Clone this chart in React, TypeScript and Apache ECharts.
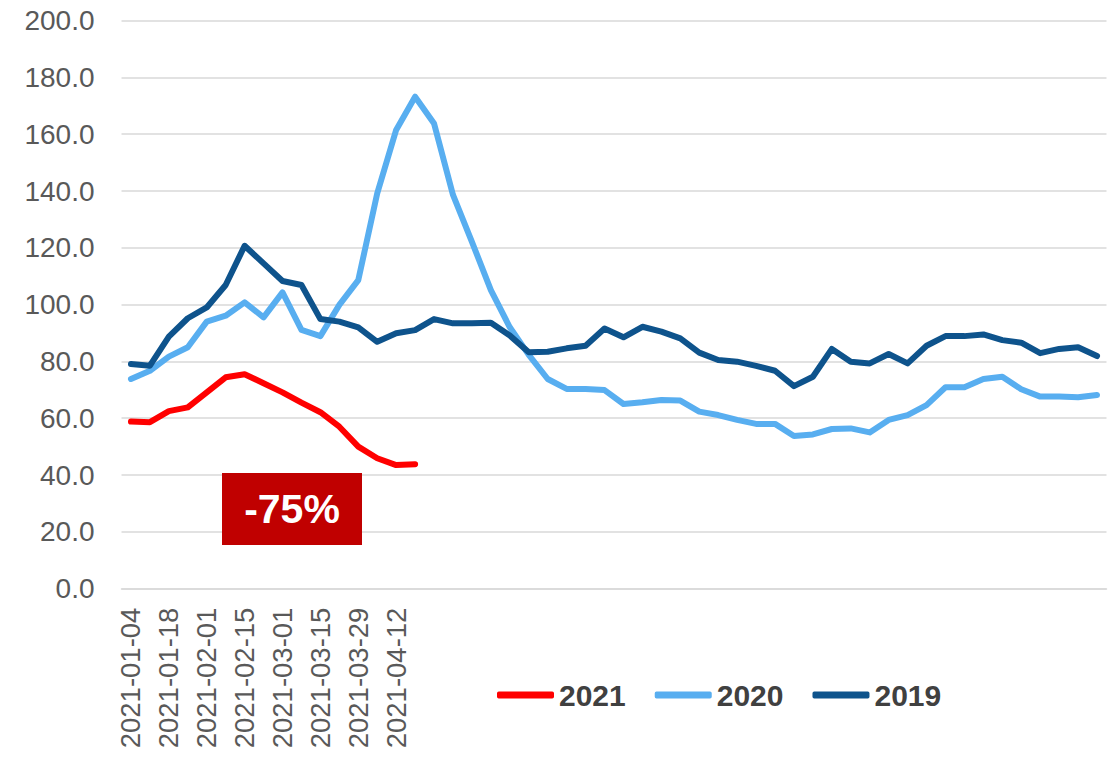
import React, { useEffect, useRef } from "react";
import * as echarts from "echarts";

const categories: string[] = [
  "2021-01-04", "2021-01-11", "2021-01-18", "2021-01-25", "2021-02-01", "2021-02-08",
  "2021-02-15", "2021-02-22", "2021-03-01", "2021-03-08", "2021-03-15", "2021-03-22",
  "2021-03-29", "2021-04-05", "2021-04-12", "2021-04-19",
  "", "", "", "", "", "", "", "", "", "", "", "", "", "", "", "", "", "",
  "", "", "", "", "", "", "", "", "", "", "", "", "", "", "", "", "", "",
];

const seriesNames = ["2021", "2020", "2019"];

const values2021: number[] = [
  58.8, 58.6, 62.5, 63.8, 69.1, 74.4, 75.5, 72.3, 69.1, 65.5, 62.1, 57.0, 50.0, 45.9, 43.5, 43.8,
];

const values2020: number[] = [
  73.8, 76.7, 81.7, 85.0, 94.0, 96.1, 100.8, 95.5, 104.3, 91.1, 88.9, 99.9, 108.6,
  139.2, 161.5, 173.2, 163.8, 138.6, 122.1, 105.1, 92.0,
  82.3, 73.8, 70.3, 70.3, 69.9, 65.0, 65.6, 66.4, 66.2, 62.3, 61.1, 59.4, 58.0, 58.0, 53.7,
  54.3, 56.2, 56.4, 55.0, 59.4, 61.1, 64.6, 70.9, 70.9, 73.8, 74.6, 70.2, 67.6, 67.6, 67.4, 68.2,
];

const values2019: number[] = [
  79.1, 78.5, 88.7, 95.2, 99.0, 106.9, 120.7, 114.5, 108.3, 106.9, 94.9, 94.0, 92.0, 86.9, 89.9, 91.0, 94.9,
  93.4, 93.4, 93.6, 89.1,
  83.2, 83.4, 84.6, 85.5, 91.6, 88.5, 92.2, 90.5, 88.1, 83.1, 80.5, 79.9, 78.4, 76.7, 71.3,
  74.6, 84.4, 79.9, 79.3, 82.6, 79.3, 85.5, 88.9, 88.9, 89.5, 87.5, 86.6, 82.9, 84.4, 85.0, 81.9,
];

const annotationText = "-75%";

const colors = ["#FF0000", "#58AEF0", "#0E538C"];
const FONT = "'Liberation Sans', Arial, sans-serif";

export default function App() {
  const ref = useRef<HTMLDivElement>(null);

  useEffect(() => {
    if (!ref.current) return;
    const chart = echarts.init(ref.current, null, { renderer: "svg" });
    const allData = [values2021, values2020, values2019];
    chart.setOption({
      animation: false,
      backgroundColor: "#FFFFFF",
      textStyle: { fontFamily: FONT },
      grid: {
        left: 121.5,
        right: 7.5,
        top: 20.6,
        bottom: 170.4,
        containLabel: false,
        outerBoundsMode: "none",
      },
      legend: {
        left: 497,
        top: 680,
        padding: 0,
        itemWidth: 57,
        itemHeight: 7,
        itemGap: 29,
        icon: "roundRect",
        textStyle: {
          fontFamily: FONT,
          fontSize: 30,
          fontWeight: "bold",
          color: "#404040",
          padding: [0, 0, 0, 0],
        },
        data: seriesNames,
      },
      xAxis: {
        type: "category",
        data: categories,
        boundaryGap: true,
        axisLine: { show: true, lineStyle: { color: "#D9D9D9", width: 1.5 } },
        axisTick: { show: false },
        axisLabel: {
          rotate: 90,
          interval: 1,
          margin: 19,
          fontSize: 27.5,
          color: "#595959",
          fontFamily: FONT,
        },
        splitLine: { show: false },
      },
      yAxis: {
        type: "value",
        min: 0,
        max: 200,
        interval: 20,
        axisLine: { show: false },
        axisTick: { show: false },
        axisLabel: {
          margin: 27,
          fontSize: 28,
          color: "#595959",
          fontFamily: FONT,
          formatter: (v: number) => v.toFixed(1),
        },
        splitLine: { show: true, lineStyle: { color: "#D9D9D9", width: 1.5 } },
      },
      series: seriesNames.map((name, i) => ({
        name,
        type: "line",
        data: allData[i],
        showSymbol: false,
        symbol: "none",
        color: colors[i],
        lineStyle: { width: 6, color: colors[i], cap: "round", join: "round" },
      })),
      graphic: [
        {
          type: "rect",
          shape: { x: 222, y: 473, width: 140, height: 72 },
          style: { fill: "#C00000" },
          z: 10,
        },
        {
          type: "text",
          x: 292,
          y: 509,
          style: {
            text: annotationText,
            fill: "#FFFFFF",
            font: `bold 41px ${FONT}`,
            textAlign: "center",
            textVerticalAlign: "middle",
          },
          z: 11,
        },
      ],
    });
    return () => chart.dispose();
  }, []);

  return (
    <div
      ref={ref}
      style={{ position: "fixed", left: 0, top: 0, width: 1114, height: 759 }}
    />
  );
}
